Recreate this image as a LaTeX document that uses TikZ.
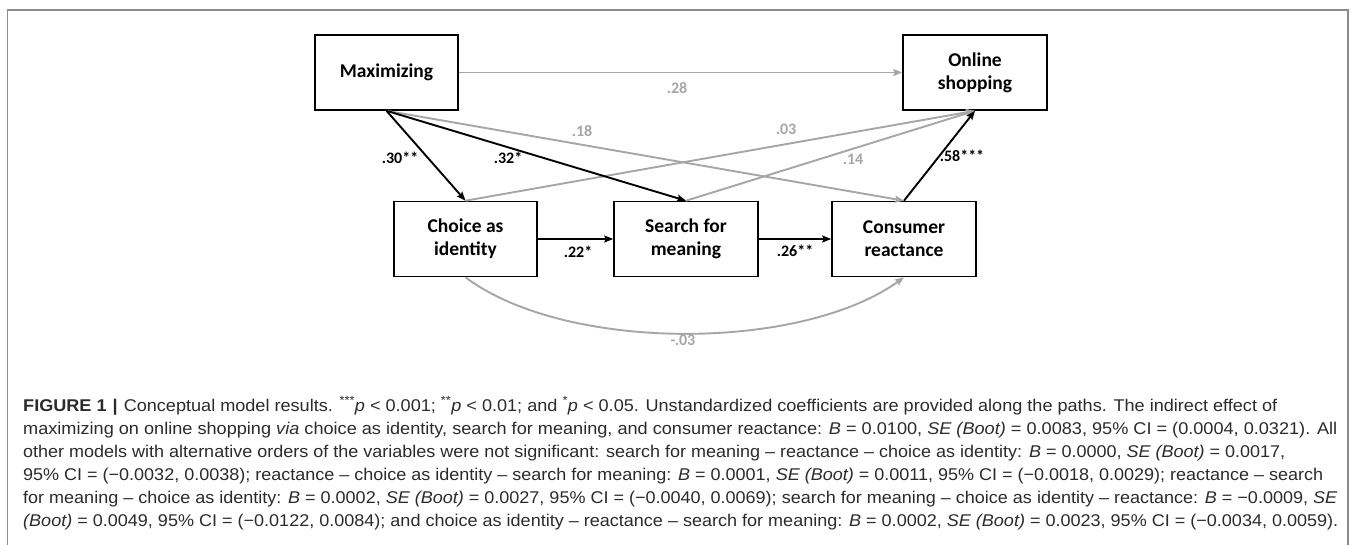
\documentclass[tikz,border=0pt]{standalone}
\usepackage{fontspec}
\usepackage{graphicx}
\setmainfont{Liberation Sans}
\newfontfamily\carlito{Carlito}
\usetikzlibrary{arrows.meta}
\definecolor{pathgray}{HTML}{A6A6A6}
\definecolor{captext}{HTML}{2B2B2B}
\definecolor{framegray}{HTML}{8C8C8C}
\tikzset{
  varbox/.style={draw=black, line width=1.6pt, minimum width=143pt, minimum height=75pt,
    align=center, inner sep=0pt, font=\carlito\bfseries\fontsize{19.5}{23}\selectfont},
  blackpath/.style={draw=black, line width=1.9pt, -{Stealth[length=9pt,width=7pt,inset=1.5pt]}},
  graypath/.style={draw=pathgray, line width=1.9pt, -{Stealth[length=9pt,width=7pt,inset=1.5pt]}},
  blacklab/.style={text=black, inner sep=0pt, font=\carlito\bfseries\fontsize{16}{18}\selectfont},
  graylab/.style={text=pathgray, inner sep=0pt, font=\carlito\bfseries\fontsize{16}{18}\selectfont},
  capline/.style={anchor=base west, inner sep=0pt, text=captext, font=\fontsize{17}{20}\selectfont}
}
\begin{document}
\begin{tikzpicture}[x=1pt, y=-1pt]
\useasboundingbox (0,0) rectangle (1356,544);
\clip (0,0) rectangle (1356,544);
% outer frame
\draw[framegray, line width=1.6pt] (7.5,10) rectangle (1348,600);

% variables
\node[varbox] (max) at (386.5,72.5) {Maximizing};
\node[varbox, minimum width=144pt] (online) at (975,72.5) {Online\\shopping};
\node[varbox] (choice) at (465.5,239) {Choice as\\identity};
\node[varbox, minimum width=144pt] (search) at (686,239) {Search for\\meaning};
\node[varbox, minimum width=144pt] (consumer) at (904,239) {Consumer\\reactance};

% non-significant paths (gray)
\draw[graypath] (max.east) -- (online.west);
\draw[graypath] (max.south) -- (consumer.north);
\draw[graypath] (choice.north) -- (online.south);
\draw[graypath] (search.north) -- (online.south);
\draw[graypath] (choice.south) .. controls (565,352) and (800,352) .. (consumer.south);

% significant paths (black)
\draw[blackpath] (max.south) -- (choice.north);
\draw[blackpath] (max.south) -- (search.north);
\draw[blackpath] (consumer.north) -- (online.south);
\draw[blackpath] (choice.east) -- (search.west);
\draw[blackpath] (search.east) -- (consumer.west);

% path labels
\node[graylab] (l28) at (677,88) {.28};
\node[blacklab] (l30) at (400,158) {.30**};
\node[blacklab] (l32) at (508,158) {.32*};
\node[graylab] (l18) at (582,131) {.18};
\node[graylab] (l03) at (786,129) {.03};
\node[graylab] (l14) at (853,159) {.14};
\node[blacklab] (l58) at (962,156) {.58***};
\node[blacklab] (l22) at (578,252) {.22*};
\node[blacklab] (l26) at (795,251) {.26**};
\node[graylab] (lm03) at (683,340) {-.03};

% caption
\node[capline] (c1) at (23,411) {\resizebox{1254pt}{\height}{\textbf{FIGURE 1\,\,|}\,\,Conceptual model results. \textsuperscript{***}\textit{p} < 0.001; \textsuperscript{**}\textit{p} < 0.01; and \textsuperscript{*}\textit{p} < 0.05. Unstandardized coefficients are provided along the paths. The indirect effect of}};
\node[capline] (c2) at (23,434) {\resizebox{1314pt}{\height}{maximizing on online shopping \textit{via} choice as identity, search for meaning, and consumer reactance: \textit{B} = 0.0100, \textit{SE (Boot)} = 0.0083, 95\% CI = (0.0004, 0.0321). All}};
\node[capline] (c3) at (23,457) {\resizebox{1262pt}{\height}{other models with alternative orders of the variables were not significant: search for meaning – reactance – choice as identity: \textit{B} = 0.0000, \textit{SE (Boot)} = 0.0017,}};
\node[capline] (c4) at (23,480) {\resizebox{1300pt}{\height}{95\% CI = (−0.0032, 0.0038); reactance – choice as identity – search for meaning: \textit{B} = 0.0001, \textit{SE (Boot)} = 0.0011, 95\% CI = (−0.0018, 0.0029); reactance – search}};
\node[capline] (c5) at (23,503) {\resizebox{1314pt}{\height}{for meaning – choice as identity: \textit{B} = 0.0002, \textit{SE (Boot)} = 0.0027, 95\% CI = (−0.0040, 0.0069); search for meaning – choice as identity – reactance: \textit{B} = −0.0009, \textit{SE}}};
\node[capline] (c6) at (23,526) {\resizebox{1315pt}{\height}{\textit{(Boot)} = 0.0049, 95\% CI = (−0.0122, 0.0084); and choice as identity – reactance – search for meaning: \textit{B} = 0.0002, \textit{SE (Boot)} = 0.0023, 95\% CI = (−0.0034, 0.0059).}};
\end{tikzpicture}
\end{document}
